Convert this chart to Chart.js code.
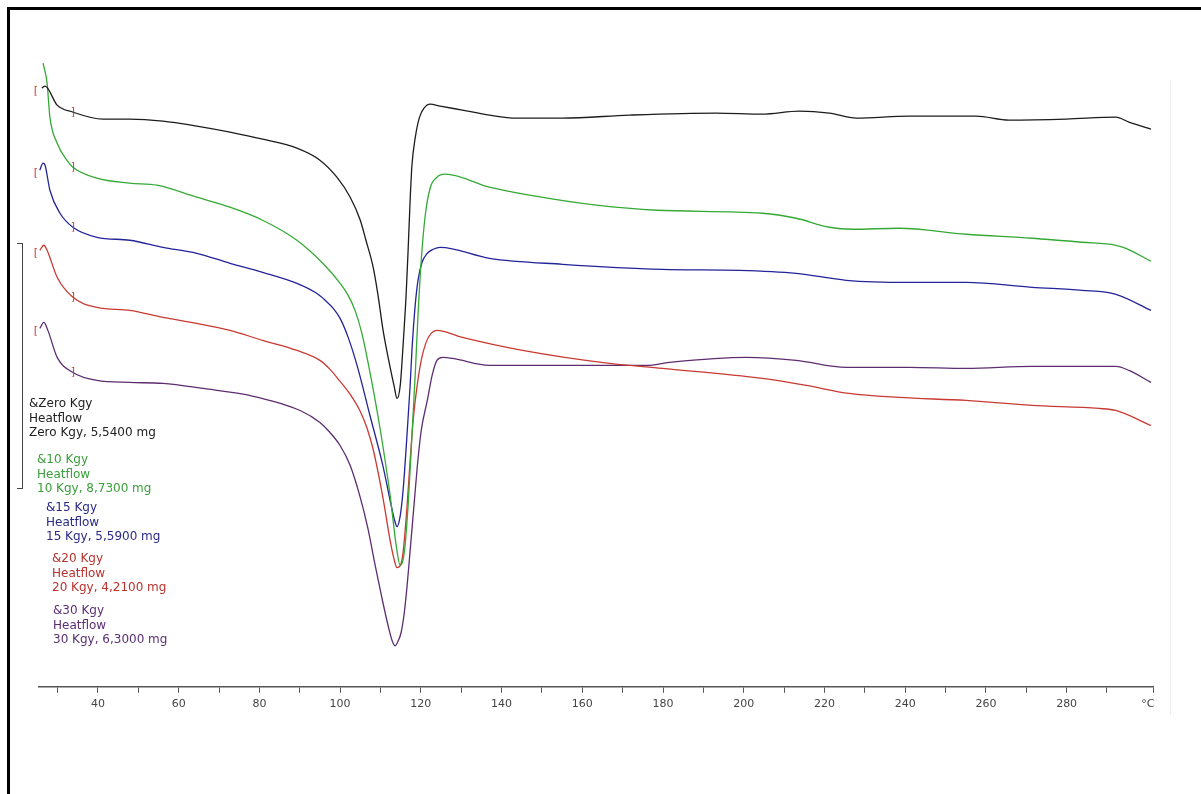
<!DOCTYPE html>
<html>
<head>
<meta charset="utf-8">
<script src="https://cdn.jsdelivr.net/npm/chart.js@4"></script>
<style>
  html, body { margin: 0; padding: 0; background: #fff; }
  #wrap { position: relative; width: 1201px; height: 794px; overflow: hidden; }
  #wrap canvas { position: absolute; left: 0; top: 0; }
  .frame { position: absolute; left: 7px; top: 7px; width: 1300px; height: 900px;
           border-left: 3px solid #000; border-top: 3px solid #000; }
  .edge { position: absolute; left: 1170px; top: 80px; width: 1px; height: 635px; background: #ececec; }
  .bracket { position: absolute; left: 17px; top: 243px; width: 5px; height: 244px;
             border: 1px solid #444; border-left: none; }
  .lbl { position: absolute; font-family: "DejaVu Sans", sans-serif; font-size: 12px;
         line-height: 14.5px; white-space: nowrap; }
</style>
</head>
<body>
<div id="wrap">
  <canvas id="dsc" width="1201" height="794"></canvas>
  <div class="frame"></div>
  <div class="edge"></div>
  <div class="bracket"></div>
</div>
<script>
// temperatura (°C) e fluxo de calor (unidades arbitrárias) de cada amostra
const tZero = [26.1, 26.9, 29.9, 33.8, 41.2, 47.9, 56.1, 64.5, 72.7, 80.8, 89.3, 95.0, 99.2, 102.5, 105.0, 106.4, 108.2, 109.4, 110.65, 112.4, 113.4, 114.1, 114.9, 115.6, 116.35, 116.85, 117.35, 117.8, 118.6, 119.6, 120.8, 122.3, 124.8, 130.3, 137.0, 143.7, 155.1, 171.7, 193.2, 204.6, 213.8, 221.2, 227.9, 241.0, 257.6, 265.7, 279.9, 292.2, 295.45, 300.9];
const hfZero = [59.8, 60.0, 58.1, 57.4, 56.7, 56.7, 56.5, 56.0, 55.4, 54.7, 53.8, 52.6, 50.9, 48.9, 46.6, 44.6, 41.9, 39.1, 35.6, 31.9, 30.0, 28.8, 30.1, 34.1, 39.1, 43.6, 48.6, 52.1, 54.8, 56.8, 57.8, 58.2, 58.0, 57.6, 57.1, 56.8, 56.8, 57.1, 57.3, 57.2, 57.5, 57.3, 56.8, 57.0, 57.0, 56.6, 56.7, 56.9, 56.4, 55.7];

const t10 = [26.4, 27.4, 28.1, 29.9, 32.3, 33.8, 39.75, 47.9, 54.6, 64.5, 72.7, 80.8, 89.3, 95.7, 100.0, 102.0, 103.7, 105.4, 107.4, 109.9, 112.4, 113.9, 114.9, 115.9, 116.85, 117.8, 118.6, 119.3, 120.1, 121.1, 122.3, 124.0, 126.0, 137.0, 146.9, 163.5, 178.4, 204.6, 213.0, 221.2, 226.9, 238.5, 255.1, 271.4, 283.8, 292.2, 294.7, 300.9];
const hf10 = [62.3, 60.3, 56.9, 54.3, 52.6, 51.9, 50.8, 50.3, 50.1, 48.9, 47.9, 46.6, 44.6, 42.3, 40.3, 39.1, 37.6, 35.3, 31.4, 25.8, 19.1, 14.1, 12.1, 13.4, 18.1, 25.1, 31.1, 37.1, 42.6, 47.1, 49.8, 50.9, 51.2, 49.9, 49.1, 48.1, 47.6, 47.3, 46.8, 45.9, 45.7, 45.8, 45.2, 44.8, 44.4, 44.1, 43.8, 42.5];

const t15 = [25.6, 26.4, 26.9, 28.1, 30.6, 33.8, 39.75, 47.9, 56.1, 64.5, 72.7, 80.8, 89.3, 94.2, 96.3, 98.3, 100.0, 102.0, 104.2, 107.4, 110.65, 112.4, 113.4, 114.1, 114.9, 115.6, 116.6, 117.35, 117.8, 118.6, 119.3, 120.3, 121.6, 123.05, 124.8, 137.0, 155.1, 179.85, 198.9, 213.0, 225.4, 241.0, 255.1, 271.4, 283.8, 292.2, 300.9];
const hf15 = [51.6, 52.3, 52.1, 49.6, 47.3, 45.9, 44.9, 44.6, 43.9, 43.3, 42.3, 41.4, 40.3, 39.3, 38.6, 37.8, 36.8, 34.9, 32.1, 27.1, 22.0, 18.6, 16.8, 16.0, 17.1, 19.6, 25.3, 30.1, 33.6, 38.1, 40.6, 42.4, 43.3, 43.7, 43.9, 42.8, 42.2, 41.7, 41.6, 41.3, 40.6, 40.4, 40.4, 39.9, 39.6, 39.2, 37.6];

const t20 = [25.6, 26.6, 27.4, 29.9, 33.8, 39.75, 47.9, 56.1, 64.5, 72.7, 80.8, 89.3, 95.0, 97.5, 100.0, 102.5, 105.0, 106.7, 108.2, 110.65, 112.4, 113.4, 114.1, 114.9, 115.6, 116.6, 117.35, 118.1, 119.1, 120.1, 121.3, 122.55, 124.0, 130.3, 145.2, 166.7, 179.85, 204.6, 215.5, 226.1, 238.5, 255.1, 271.4, 288.0, 292.2, 300.9];
const hf20 = [43.6, 44.1, 43.6, 40.9, 38.9, 37.9, 37.6, 36.9, 36.3, 35.6, 34.6, 33.6, 32.6, 31.7, 30.5, 29.2, 27.5, 25.8, 23.7, 18.8, 14.6, 12.7, 11.9, 12.1, 13.4, 18.1, 22.6, 26.6, 30.1, 32.6, 34.4, 35.3, 35.6, 34.9, 33.6, 32.3, 31.8, 30.8, 30.1, 29.3, 28.9, 28.6, 28.1, 27.8, 27.6, 26.1];

const t30 = [25.6, 26.6, 27.6, 29.9, 33.8, 39.75, 47.9, 56.1, 66.0, 77.6, 90.1, 95.0, 97.5, 100.0, 102.5, 105.0, 106.9, 108.7, 110.4, 111.9, 112.9, 113.6, 114.4, 115.1, 115.9, 116.6, 117.35, 118.3, 119.1, 120.1, 121.6, 122.8, 124.0, 125.5, 127.9, 137.0, 155.1, 175.9, 181.6, 200.6, 213.0, 225.4, 241.0, 255.1, 271.4, 292.2, 295.45, 300.9];
const hf30 = [35.8, 36.4, 35.6, 32.9, 31.4, 30.6, 30.4, 30.3, 29.8, 29.1, 27.6, 26.4, 25.4, 24.1, 22.1, 18.9, 15.8, 12.1, 8.8, 6.1, 4.6, 4.1, 4.6, 5.4, 7.4, 10.1, 13.6, 18.1, 21.9, 25.6, 28.6, 31.1, 32.6, 32.9, 32.8, 32.1, 32.1, 32.1, 32.4, 32.9, 32.6, 31.9, 31.9, 31.8, 32.0, 32.0, 31.6, 30.4];

const amostras = ['Zero Kgy', '10 Kgy', '15 Kgy', '20 Kgy', '30 Kgy'];
const massas = ['5,5400', '8,7300', '5,5900', '4,2100', '6,3000'];
const xTicks = [30, 40, 50, 60, 70, 80, 90, 100, 110, 120, 130, 140, 150, 160, 170, 180, 190, 200, 210, 220, 230, 240, 250, 260, 270, 280, 290, 301.4];

// limites de avaliação ( [ e ] ) de cada curva
const inicioLimite = [true, false, true, true, true];
const tInicio = 24.6;
const tFim = 33.8;

document.addEventListener('DOMContentLoaded', () => {
  const cores = ['#1c1c1c', '#35a935', '#23239a', '#c83a32', '#5c2d70'];
  const coresTexto = ['#222222', '#3a9e3a', '#2a2a86', '#b8322e', '#5a2f72'];
  const series = [[tZero, hfZero], [t10, hf10], [t15, hf15], [t20, hf20], [t30, hf30]];

  // textos da legenda à esquerda
  const posLegenda = [[29, 396], [37, 452], [46, 500], [52, 551], [53, 603]];
  const wrap = document.getElementById('wrap');
  amostras.forEach((nome, i) => {
    const d = document.createElement('div');
    d.className = 'lbl';
    d.style.left = posLegenda[i][0] + 'px';
    d.style.top = posLegenda[i][1] + 'px';
    d.style.color = coresTexto[i];
    d.innerHTML = `&amp;${nome}<br>Heatflow<br>${nome}, ${massas[i]} mg`;
    wrap.appendChild(d);
  });

  function interp(ts, hs, t) {
    for (let k = 1; k < ts.length; k++) {
      if (ts[k] >= t) {
        const f = (t - ts[k - 1]) / (ts[k] - ts[k - 1]);
        return hs[k - 1] + f * (hs[k] - hs[k - 1]);
      }
    }
    return hs[hs.length - 1];
  }

  const limites = {
    id: 'limites',
    afterDatasetsDraw(chart) {
      const { ctx, scales } = chart;
      ctx.save();
      ctx.font = '11px "DejaVu Sans", sans-serif';
      ctx.fillStyle = '#c0443c';
      ctx.textAlign = 'center';
      ctx.textBaseline = 'middle';
      series.forEach(([ts, hs], i) => {
        if (inicioLimite[i]) {
          ctx.fillText('[', scales.x.getPixelForValue(tInicio), scales.y.getPixelForValue(hs[0] - 0.3));
        }
        ctx.fillText(']', scales.x.getPixelForValue(tFim), scales.y.getPixelForValue(interp(ts, hs, tFim)));
      });
      ctx.restore();
    }
  };

  const ctx = document.getElementById('dsc').getContext('2d');
  new Chart(ctx, {
    type: 'line',
    data: {
      datasets: series.map(([ts, hs], i) => ({
        label: amostras[i],
        data: ts.map((t, k) => ({ x: t, y: hs[k] })),
        borderColor: cores[i],
        borderWidth: 1.3,
        pointRadius: 0,
        cubicInterpolationMode: 'monotone',
        clip: false,
        fill: false
      }))
    },
    options: {
      responsive: false,
      animation: false,
      layout: { padding: { left: 39, right: 48, top: 16, bottom: 78 } },
      plugins: { legend: { display: false }, tooltip: { enabled: false } },
      scales: {
        x: {
          type: 'linear',
          min: 25.4,
          max: 301.4,
          afterBuildTicks: (axis) => { axis.ticks = xTicks.map(v => ({ value: v })); },
          grid: { drawOnChartArea: false, drawTicks: true, tickLength: 6, color: '#555', tickWidth: 1 },
          border: { display: true, color: '#555', width: 1.5 },
          ticks: {
            autoSkip: false,
            maxRotation: 0,
            padding: 5,
            color: '#444',
            font: { family: '"DejaVu Sans", sans-serif', size: 11 },
            callback: (v) => {
              if (v > 300) return '°C   ';
              return v % 20 === 0 ? String(v) : '';
            }
          }
        },
        y: { type: 'linear', display: false, min: 0, max: 67 }
      }
    },
    plugins: [limites]
  });
});
</script>
</body>
</html>
